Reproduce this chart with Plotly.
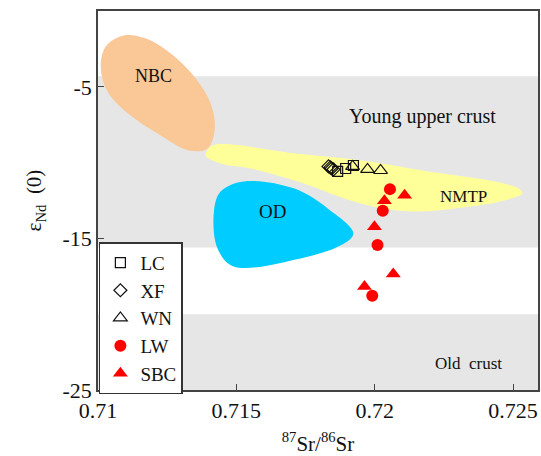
import plotly.graph_objects as go

# ---- sample data (87Sr/86Sr, eNd(0)) ----
lc_x = [0.71866, 0.71895, 0.71923]
lc_y = [-10.58, -10.39, -10.19]
xf_x = [0.71833, 0.71840, 0.71844, 0.71851]
xf_y = [-10.25, -10.32, -10.39, -10.45]
wn_x = [0.71920, 0.71974, 0.72021]
wn_y = [-10.25, -10.45, -10.52]
lw_x = [0.72055, 0.72029, 0.72010, 0.71991]
lw_y = [-11.75, -13.17, -15.44, -18.78]
sbc_x = [0.72108, 0.72035, 0.71999, 0.72067, 0.71963]
sbc_y = [-12.15, -12.52, -14.23, -17.35, -18.18]

# ---- field outlines ----
nbc_x = [0.71093, 0.71173, 0.71263, 0.71353, 0.71407, 0.71422, 0.71396, 0.71328,
         0.71227, 0.71118, 0.71039, 0.71010, 0.71028, 0.71093]
nbc_y = [-1.62, -1.82, -2.81, -4.45, -6.10, -7.75, -9.07, -9.20,
         -8.21, -6.90, -5.44, -3.79, -2.34, -1.62]
nmtp_x = [0.71389, 0.71414, 0.71714, 0.71956, 0.72194, 0.72436, 0.72519, 0.72534,
          0.72472, 0.72317, 0.72129, 0.71949, 0.71732, 0.71552, 0.71443, 0.71389]
nmtp_y = [-9.52, -8.87, -9.40, -9.86, -10.58, -11.24, -11.70, -12.03,
          -12.49, -12.96, -13.22, -12.69, -11.31, -10.39, -10.06, -9.52]
od_x = [0.71419, 0.71443, 0.71527, 0.71707, 0.71830, 0.71923, 0.71877, 0.71732,
        0.71490, 0.71432, 0.71419]
od_y = [-13.23, -11.91, -11.24, -11.70, -13.02, -14.67, -15.46, -16.32,
        -16.85, -15.66, -13.23]

# crust bands (eNd limits)
young_band = [-15.6, -4.3]
old_band = [-25.0, -20.0]

# labels
label_text = ["NBC", "Young upper crust", "NMTP", "OD", "Old  crust"]
label_x = [0.71202, 0.72172, 0.72320, 0.71631, 0.72339]
label_y = [-4.32, -6.96, -12.23, -13.22, -23.25]
label_size = [18, 20, 17, 19, 17]

x_ticks = [0.71, 0.715, 0.72, 0.725]
x_tick_text = ["0.71", "0.715", "0.72", "0.725"]
y_ticks = [-25, -15, -5]
y_tick_text = ["-25", "-15", "-5"]

FONT = "Liberation Serif, Times New Roman, serif"

fig = go.Figure()

for xs, ys, col in [(nbc_x, nbc_y, "#FAC796"), (nmtp_x, nmtp_y, "#FFFF99"), (od_x, od_y, "#00CCFF")]:
    fig.add_trace(go.Scatter(x=xs, y=ys, mode="lines", fill="toself", fillcolor=col,
                             line=dict(color=col, width=0, shape="spline", smoothing=1.0),
                             showlegend=False, hoverinfo="skip"))

fig.add_trace(go.Scatter(x=lc_x, y=lc_y, mode="markers", name="LC",
                         marker=dict(symbol="square-open", size=10, color="#111", line=dict(width=1.2))))
fig.add_trace(go.Scatter(x=xf_x, y=xf_y, mode="markers", name="XF",
                         marker=dict(symbol="diamond-open", size=10, color="#111", line=dict(width=1.2))))
fig.add_trace(go.Scatter(x=wn_x, y=wn_y, mode="markers", name="WN",
                         marker=dict(symbol="triangle-up-open", size=12, color="#111", line=dict(width=1.2))))
fig.add_trace(go.Scatter(x=lw_x, y=lw_y, mode="markers", name="LW",
                         marker=dict(symbol="circle", size=12, color="#FF0000")))
fig.add_trace(go.Scatter(x=sbc_x, y=sbc_y, mode="markers", name="SBC",
                         marker=dict(symbol="triangle-up", size=13, color="#FF0000")))

for lo, hi in [young_band, old_band]:
    fig.add_shape(type="rect", xref="paper", yref="y", x0=0, x1=1, y0=lo, y1=hi,
                  fillcolor="#E6E6E6", line=dict(width=0), layer="below")

for t, x, y, s in zip(label_text, label_x, label_y, label_size):
    fig.add_annotation(x=x, y=y, text=t, showarrow=False,
                       font=dict(family=FONT, size=s, color="#111"))

fig.update_layout(
    width=541, height=456,
    margin=dict(l=98, r=3, t=11, b=66),
    paper_bgcolor="white", plot_bgcolor="white",
    font=dict(family=FONT, size=20, color="#111"),
    showlegend=True,
    legend=dict(x=0.002, y=0.39, xanchor="left", yanchor="top",
                bgcolor="white", bordercolor="#333", borderwidth=1.5,
                font=dict(family=FONT, size=19, color="#111"), tracegroupgap=0),
    xaxis=dict(range=[0.71, 0.7259], tickvals=x_ticks, ticktext=x_tick_text,
               automargin=False,
               showgrid=False, zeroline=False, showline=True, mirror=True,
               linecolor="#444", linewidth=1.5, ticks="inside", ticklen=6, tickcolor="#444",
               tickfont=dict(family=FONT, size=22),
               title=dict(text="<sup>87</sup>Sr/<sup>86</sup>Sr", font=dict(family=FONT, size=21))),
    yaxis=dict(range=[-25, 0], tickvals=y_ticks, ticktext=y_tick_text,
               automargin=False,
               showgrid=False, zeroline=False, showline=True, mirror=True,
               linecolor="#444", linewidth=1.5, ticks="inside", ticklen=6, tickcolor="#444",
               tickfont=dict(family=FONT, size=22),
               title=dict(text="ε<sub>Nd</sub>  (0)", font=dict(family=FONT, size=21))),
)

fig.write_html("out.html", config={"displayModeBar": False},
               post_script="document.body.style.margin='0px';document.body.style.overflow='hidden';")
